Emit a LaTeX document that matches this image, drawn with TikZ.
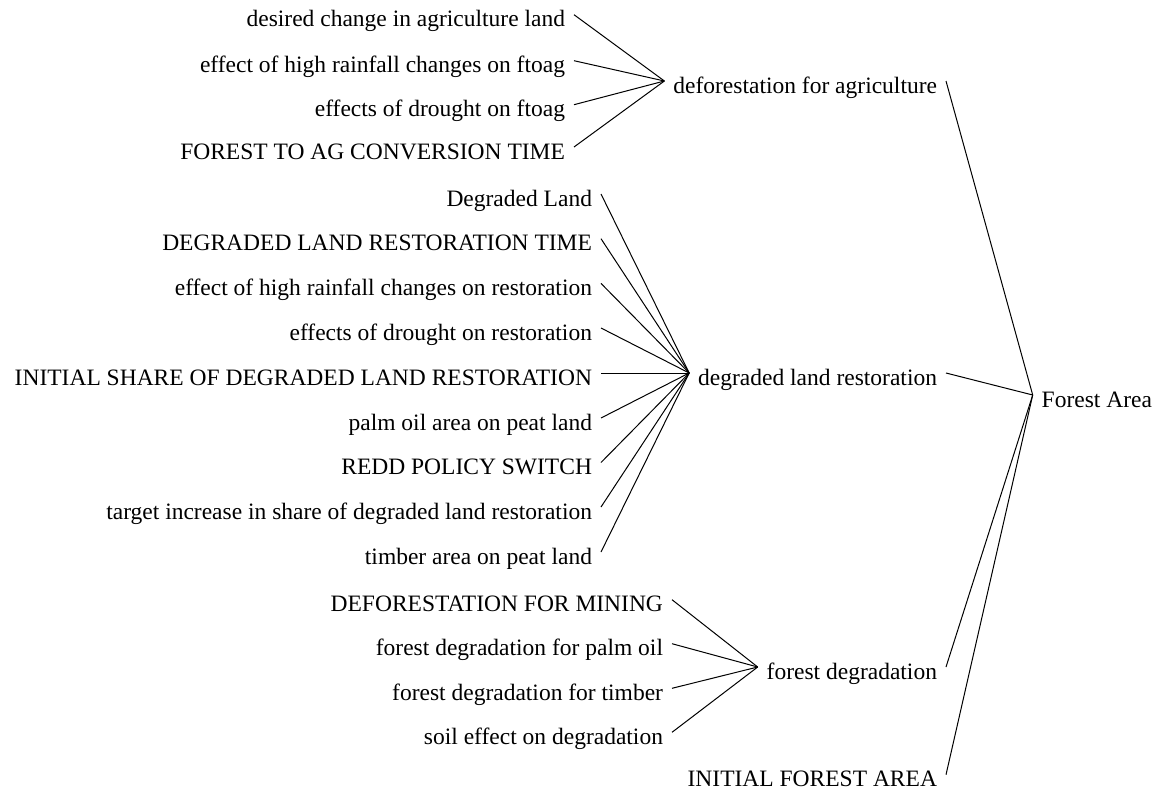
\documentclass[tikz,border=0pt]{standalone}
\usepackage{fontspec}
\setmainfont{Liberation Serif}
\usetikzlibrary{positioning}
\tikzset{
  var/.style={inner sep=0pt, outer xsep=9pt, text height=11.5pt, text depth=0pt,
    font=\fontsize{23.5}{28}\selectfont},
  cause/.style={var, anchor=base east},
  level/.style={var, anchor=base west},
}

\begin{document}
\begin{tikzpicture}[
  x=1pt, y=-1pt,
  line width=1pt,
]
\useasboundingbox (0,0) rectangle (1157,793);

% causes of deforestation for agriculture
\node[cause] (dcal) at (574,26.7) {desired change in agriculture land};
\node[cause] (ehrf) at (574,72.7) {effect of high rainfall changes on ftoag};
\node[cause] (edf) at (574,116.7) {effects of drought on ftoag};
\node[cause] (fact) at (574,159) {FOREST TO AG CONVERSION TIME};

% causes of degraded land restoration
\node[cause] (dl) at (601,206) {Degraded Land};
\node[cause] (dlrt) at (601,250.7) {DEGRADED LAND RESTORATION TIME};
\node[cause] (ehrr) at (601,295.4) {effect of high rainfall changes on restoration};
\node[cause] (edr) at (601,340) {effects of drought on restoration};
\node[cause] (isdlr) at (601,385) {INITIAL SHARE OF DEGRADED LAND RESTORATION};
\node[cause] (popl) at (601,430) {palm oil area on peat land};
\node[cause] (redd) at (601,474.5) {REDD POLICY SWITCH};
\node[cause] (tisdlr) at (601,519) {target increase in share of degraded land restoration};
\node[cause] (tapl) at (601,564) {timber area on peat land};

% causes of forest degradation
\node[cause] (dfm) at (672,611.7) {DEFORESTATION FOR MINING};
\node[cause] (fdpo) at (672,655.7) {forest degradation for palm oil};
\node[cause] (fdt) at (672,700.3) {forest degradation for timber};
\node[cause] (sed) at (672,744.3) {soil effect on degradation};

% direct causes of Forest Area
\node[cause] (dfa) at (946,93) {deforestation for agriculture};
\node[cause] (dlr) at (946,385) {degraded land restoration};
\node[cause] (fd) at (946,679) {forest degradation};
\node[cause] (ifa) at (946,786.7) {INITIAL FOREST AREA};

\node[level] (fa) at (1032.7,407) {Forest Area};

\path
(dcal.north east) edge (dfa.north west)
(ehrf.north east) edge (dfa.north west)
(edf.north east) edge (dfa.north west)
(fact.north east) edge (dfa.north west)

(dl.north east) edge (dlr.north west)
(dlrt.north east) edge (dlr.north west)
(ehrr.north east) edge (dlr.north west)
(edr.north east) edge (dlr.north west)
(isdlr.north east) edge (dlr.north west)
(popl.north east) edge (dlr.north west)
(redd.north east) edge (dlr.north west)
(tisdlr.north east) edge (dlr.north west)
(tapl.north east) edge (dlr.north west)

(dfm.north east) edge (fd.north west)
(fdpo.north east) edge (fd.north west)
(fdt.north east) edge (fd.north west)
(sed.north east) edge (fd.north west)

(dfa.north east) edge (fa.north west)
(dlr.north east) edge (fa.north west)
(fd.north east) edge (fa.north west)
(ifa.north east) edge (fa.north west);

\end{tikzpicture}
\end{document}
